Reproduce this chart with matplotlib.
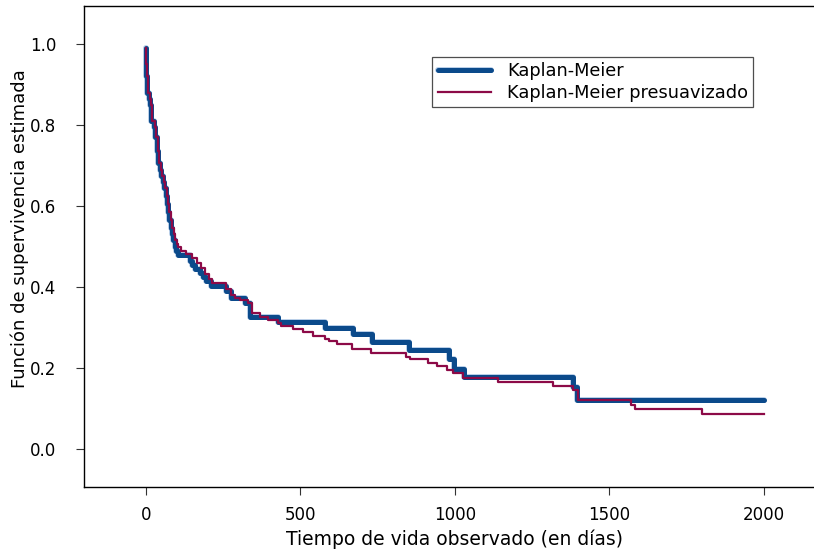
import matplotlib
matplotlib.use("Agg")
import matplotlib.pyplot as plt
import matplotlib.patheffects as pe

# Kaplan-Meier estimate: event times (days) and survival after each step
km_time = [0, 1, 2, 4, 11, 15, 18, 26, 30, 35, 40, 45, 50, 54, 60, 65, 68, 72,
           76, 80, 84, 88, 94, 99, 105, 142, 150, 160, 175, 185, 196, 210, 258,
           277, 320, 337, 428, 580, 671, 732, 852, 980, 997, 1030, 1383, 1395, 2000]
km_surv = [0.99, 0.95, 0.92, 0.88, 0.865, 0.85, 0.81, 0.795, 0.77, 0.735, 0.705,
           0.69, 0.675, 0.66, 0.645, 0.625, 0.605, 0.585, 0.565, 0.545, 0.53,
           0.515, 0.50, 0.49, 0.478, 0.465, 0.455, 0.445, 0.435, 0.425, 0.415,
           0.403, 0.39, 0.372, 0.36, 0.326, 0.313, 0.298, 0.283, 0.265, 0.245,
           0.222, 0.198, 0.178, 0.152, 0.12, 0.12]

# Presmoothed Kaplan-Meier estimate
pkm_time = [0, 2, 4, 7, 14, 18, 21, 29, 33, 38, 43, 48, 53, 58, 63, 68, 72, 76,
            80, 85, 90, 95, 100, 105, 113, 131, 150, 165, 180, 190, 205, 215,
            261, 277, 290, 304, 331, 342, 369, 396, 428, 439, 477, 509, 542,
            579, 592, 617, 668, 730, 841, 854, 914, 941, 973, 993, 1025, 1140,
            1318, 1381, 1400, 1570, 1583, 1798, 2000]
pkm_surv = [0.99, 0.95, 0.92, 0.88, 0.865, 0.85, 0.81, 0.795, 0.77, 0.735, 0.705,
            0.69, 0.675, 0.66, 0.645, 0.625, 0.605, 0.585, 0.565, 0.545, 0.53,
            0.515, 0.505, 0.50, 0.49, 0.482, 0.472, 0.46, 0.446, 0.432, 0.42,
            0.41, 0.395, 0.38, 0.372, 0.368, 0.361, 0.335, 0.327, 0.318, 0.312,
            0.304, 0.296, 0.288, 0.28, 0.272, 0.266, 0.26, 0.246, 0.238, 0.228,
            0.221, 0.213, 0.205, 0.195, 0.187, 0.175, 0.165, 0.156, 0.146,
            0.121, 0.108, 0.098, 0.086, 0.086]

x_ticks = [0, 500, 1000, 1500, 2000]
y_ticks = [0.0, 0.2, 0.4, 0.6, 0.8, 1.0]

BLUE = "#0b4a8b"
RED = "#8c0a47"

plt.rcParams["font.family"] = ["DejaVu Sans"]

W, H = 814, 552
fig = plt.figure(figsize=(W / 100, H / 100), dpi=100)
ax = fig.add_axes([84 / W, 65 / H, 730 / W, 481 / H])

ax.step(km_time, km_surv, where="post", color=BLUE, lw=3.6,
        solid_capstyle="round", label="Kaplan-Meier",
        path_effects=[pe.Stroke(linewidth=4.2, foreground="#b4cbe6"), pe.Normal()])
ax.step(pkm_time, pkm_surv, where="post", color=RED, lw=1.6,
        label="Kaplan-Meier presuavizado")

ax.set_xlim(-200, 2162)
ax.set_ylim(-0.094, 1.094)
ax.set_xticks(x_ticks)
ax.set_yticks(y_ticks)
ax.set_yticklabels([f"{v:.1f}" for v in y_ticks])
ax.tick_params(axis="both", labelsize=12, length=6, width=0.8, color="#333333")
ax.tick_params(axis="y", pad=14)
ax.tick_params(axis="x", pad=8)

ax.spines["right"].set_visible(False)
for s in ("left", "top", "bottom"):
    ax.spines[s].set_linewidth(1.0)
    ax.spines[s].set_color("black")

# axis titles placed in figure pixels
fig.text(454 / W, 1 - 539 / H, "Tiempo de vida observado (en días)",
         fontsize=13.5, ha="center", va="center")
fig.text(20 / W, 1 - 229 / H, "Función de supervivencia estimada",
         fontsize=13, ha="center", va="center", rotation=90)

leg = ax.legend(loc="upper left", bbox_to_anchor=(0.477, 0.894), fontsize=12.8,
                frameon=True, fancybox=False, handlelength=3.0,
                borderpad=0.3, labelspacing=0.2, handletextpad=0.9,
                borderaxespad=0)
leg.get_frame().set_edgecolor("#222222")
leg.get_frame().set_linewidth(0.9)

fig.savefig("out.png", dpi=100)
